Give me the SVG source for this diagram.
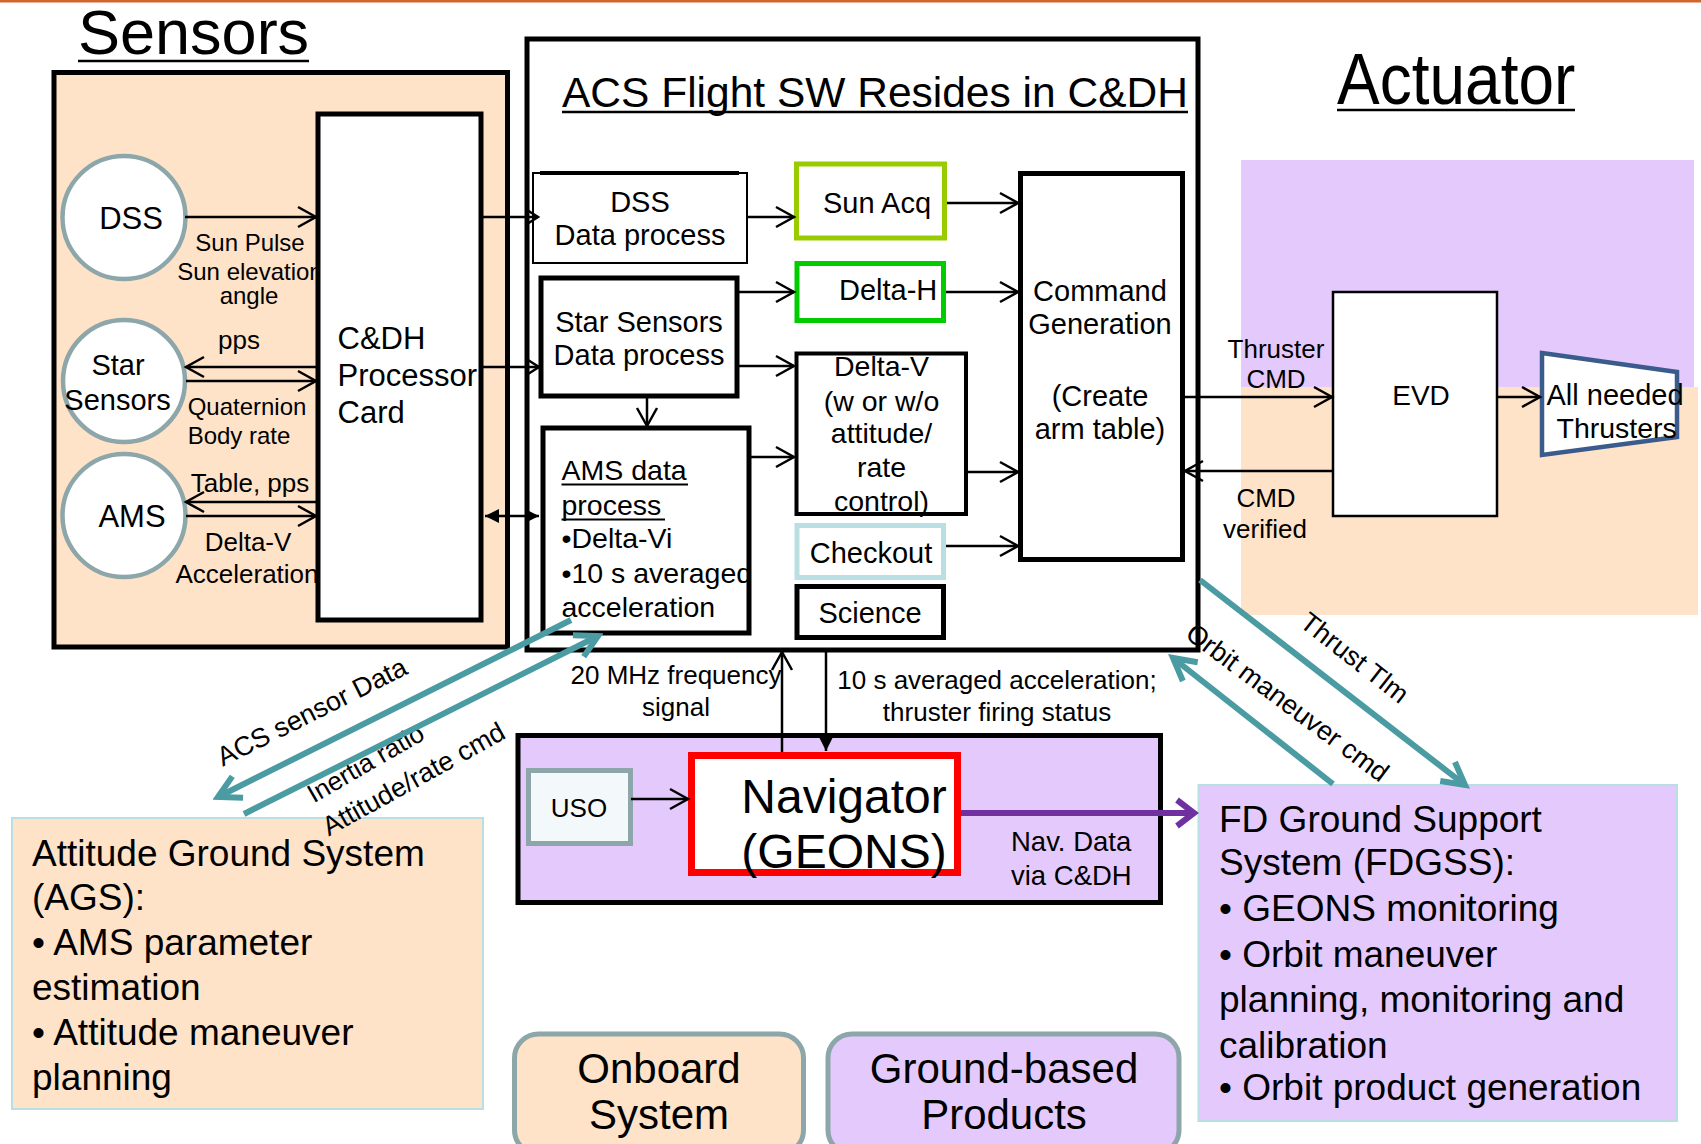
<svg xmlns="http://www.w3.org/2000/svg" width="1701" height="1144" viewBox="0 0 1701 1144">
  <style>
    text { font-family: "Liberation Sans", Arial, sans-serif; fill: #000; }
    .c { text-anchor: middle; }
    .box { fill: #fff; stroke: #000; stroke-width: 5; }
    .thin { fill: #fff; stroke: #000; stroke-width: 2.5; }
    .sensor { fill: #fff; stroke: #8ca6aa; stroke-width: 4.5; }
    .peach { fill: #fee3c8; }
    .lav { fill: #e4cafc; }
    .wire { fill: none; stroke: #000; stroke-width: 2.5; }
    .teal { fill: none; stroke: #4b9ba2; stroke-width: 6; }
    .ul { stroke: #000; stroke-width: 2.5; }
    .f24 { font-size: 24px; }
    .f26 { font-size: 26px; }
    .f28 { font-size: 28.5px; }
    .f29 { font-size: 29px; }
    .f31 { font-size: 31px; }
    .f37 { font-size: 37px; }
    .f42 { font-size: 42px; }
  </style>
  <defs>
    <marker id="open" viewBox="-22 -14 26 28" refX="0" refY="0" markerWidth="26" markerHeight="28" markerUnits="userSpaceOnUse" orient="auto">
      <path d="M-18,-10 L0,0 L-18,10" fill="none" stroke="#000" stroke-width="2.5"/>
    </marker>
    <marker id="openSmall" viewBox="-16 -10 20 20" refX="0" refY="0" markerWidth="20" markerHeight="20" markerUnits="userSpaceOnUse" orient="auto">
      <path d="M-11,-7 L0,0 L-11,7" fill="none" stroke="#000" stroke-width="2.5"/>
    </marker>
    <marker id="tri" viewBox="-16 -9 18 18" refX="0" refY="0" markerWidth="18" markerHeight="18" markerUnits="userSpaceOnUse" orient="auto-start-reverse">
      <path d="M-14,-7 L0,0 L-14,7 Z" fill="#000"/>
    </marker>
    <marker id="tealHead" viewBox="-30 -20 36 40" refX="0" refY="0" markerWidth="36" markerHeight="40" markerUnits="userSpaceOnUse" orient="auto">
      <path d="M-22,-12 L0,0 L-22,12" fill="none" stroke="#4b9ba2" stroke-width="6"/>
    </marker>
    <marker id="purpleHead" viewBox="-26 -18 32 36" refX="0" refY="0" markerWidth="32" markerHeight="36" markerUnits="userSpaceOnUse" orient="auto">
      <path d="M-17,-13 L0,0 L-17,13" fill="none" stroke="#7030a0" stroke-width="6"/>
    </marker>
  </defs>

  <!-- page rule and section titles -->
  <rect x="0" y="0" width="1701" height="2.5" fill="#d2642e"/>
  <text x="78" y="54" style="font-size:63px">Sensors</text>
  <line class="ul" x1="78" y1="61" x2="309" y2="61"/>
  <text transform="translate(1337,104) scale(1,1.12)" style="font-size:64px">Actuator</text>
  <line class="ul" x1="1337" y1="110" x2="1575" y2="110"/>

  <!-- actuator background bands -->
  <rect class="lav" x="1241" y="160" width="453" height="227"/>
  <rect class="peach" x="1241" y="387" width="457" height="228"/>

  <!-- sensors enclosure -->
  <g id="sensors-panel">
    <rect class="peach" x="54" y="72.5" width="453.5" height="574.5" stroke="#000" stroke-width="5"/>
  </g>

  <g id="dss">
    <circle class="sensor" cx="124" cy="217.5" r="61.5"/>
    <text class="c f31" x="131" y="229">DSS</text>
  </g>
  <g id="star-sensors">
    <circle class="sensor" cx="124" cy="381" r="61"/>
    <text class="c f29" x="118" y="375">Star</text>
    <text class="c f29" x="117.5" y="410">Sensors</text>
  </g>
  <g id="ams">
    <circle class="sensor" cx="124" cy="515.5" r="61.5"/>
    <text class="c f31" x="132" y="527">AMS</text>
  </g>

  <!-- sensor link labels (partly covered by the card) -->
  <g id="sensor-labels">
    <text class="c f24" x="250" y="251">Sun Pulse</text>
    <text class="c f24" x="250" y="280">Sun elevation</text>
    <text class="c f24" x="249" y="304">angle</text>
    <text class="c f26" x="239" y="349">pps</text>
    <text class="c f24" x="247" y="415">Quaternion</text>
    <text class="c f24" x="239" y="444">Body rate</text>
    <text class="c f26" x="250" y="492">Table, pps</text>
    <text class="c f26" x="248" y="551">Delta-V</text>
    <text class="c f26" x="247" y="583">Acceleration</text>
  </g>

  <g id="cdh-card">
    <rect class="box" x="318" y="114" width="163" height="506"/>
    <text class="f31" x="337.5" y="349">C&amp;DH</text>
    <text class="f31" x="337.5" y="386">Processor</text>
    <text class="f31" x="337.5" y="423">Card</text>
  </g>

  <!-- flight software enclosure -->
  <g id="acs-flight-sw">
    <rect class="box" x="527" y="39" width="671" height="611"/>
    <text x="562" y="106.5" style="font-size:42.5px">ACS Flight SW Resides in C&amp;DH</text>
    <line class="ul" x1="562" y1="112" x2="1188" y2="112"/>
  </g>

  <g id="dss-data-process">
    <rect fill="#fff" stroke="#000" stroke-width="2" x="533" y="173" width="214" height="90"/>
    <line stroke="#000" stroke-width="4" x1="540" y1="173" x2="739" y2="173"/>
    <text class="c f29" x="640" y="212">DSS</text>
    <text class="c f29" x="640" y="245">Data process</text>
  </g>
  <g id="star-data-process">
    <rect class="box" x="541" y="278" width="196" height="118"/>
    <text class="c f29" x="639" y="332">Star Sensors</text>
    <text class="c f29" x="639" y="365">Data process</text>
  </g>
  <g id="ams-data-process">
    <rect class="box" x="543" y="428" width="206" height="205"/>
    <text class="f28" x="561.5" y="480">AMS data</text>
    <line stroke="#000" stroke-width="2" x1="561.5" y1="484.5" x2="688" y2="484.5"/>
    <text class="f28" x="561.5" y="515">process</text>
    <line stroke="#000" stroke-width="2" x1="561.5" y1="519.5" x2="665" y2="519.5"/>
    <text class="f28" x="561.5" y="548">•Delta-Vi</text>
    <text class="f28" x="561.5" y="583">•10 s averaged</text>
    <text class="f28" x="561.5" y="617">acceleration</text>
  </g>
  <g id="sun-acq">
    <rect fill="#fff" stroke="#99cc00" stroke-width="5" x="796.5" y="164" width="148" height="74"/>
    <text class="f29" x="823" y="213">Sun Acq</text>
  </g>
  <g id="delta-h">
    <rect fill="#fff" stroke="#00cc00" stroke-width="5" x="797" y="263.5" width="146.5" height="57"/>
    <text class="f29" x="839" y="300">Delta-H</text>
  </g>
  <g id="delta-v">
    <rect fill="#fff" stroke="#000" stroke-width="4" x="796.5" y="353.5" width="169.5" height="160.5"/>
    <text class="c f28" x="881.5" y="376">Delta-V</text>
    <text class="c f28" x="881.5" y="411">(w or w/o</text>
    <text class="c f28" x="881.5" y="443">attitude/</text>
    <text class="c f28" x="881.5" y="477">rate</text>
    <text class="c f28" x="881.5" y="511">control)</text>
  </g>
  <g id="checkout">
    <rect fill="#fff" stroke="#b9dfe3" stroke-width="5" x="797" y="525.5" width="146.5" height="52"/>
    <text class="c f29" x="871" y="563">Checkout</text>
  </g>
  <g id="science">
    <rect class="box" x="797" y="586.5" width="146.5" height="51"/>
    <text class="c f29" x="870" y="623">Science</text>
  </g>
  <g id="command-generation">
    <rect class="box" x="1020.5" y="173.5" width="162" height="386"/>
    <text class="c f29" x="1100" y="301">Command</text>
    <text class="c f29" x="1100" y="334">Generation</text>
    <text class="c f29" x="1100" y="406">(Create</text>
    <text class="c f29" x="1100" y="439">arm table)</text>
  </g>

  <g id="evd">
    <rect class="thin" x="1333" y="292" width="164" height="224"/>
    <text class="c" x="1421" y="405" style="font-size:28px">EVD</text>
  </g>
  <g id="thrusters">
    <polygon points="1542,353 1677,372 1677,437 1542,455" fill="#fff" stroke="#3b5b8c" stroke-width="4.5"/>
    <text x="1546.5" y="405" style="font-size:29px">All needed</text>
    <text x="1556.5" y="438" style="font-size:28.5px">Thrusters</text>
  </g>

  <g id="navigator-panel">
    <rect class="lav" x="518" y="735.5" width="642.5" height="167" stroke="#000" stroke-width="5"/>
  </g>
  <g id="uso">
    <rect x="528.5" y="770.5" width="102" height="73" fill="#f3f8fa" stroke="#8ca6aa" stroke-width="5"/>
    <text class="c f26" x="579" y="817">USO</text>
  </g>
  <g id="navigator">
    <rect x="691.5" y="755.5" width="266" height="117" fill="#fff" stroke="#ff0000" stroke-width="7"/>
    <text class="c" x="844" y="813" style="font-size:48px">Navigator</text>
    <text class="c" x="844" y="868" style="font-size:48px">(GEONS)</text>
  </g>

  <g id="ags">
    <rect class="peach" x="12" y="818" width="471" height="291" stroke="#b9dfe3" stroke-width="2"/>
    <text class="f37" x="32" y="866">Attitude Ground System</text>
    <text class="f37" x="32" y="910">(AGS):</text>
    <text class="f37" x="32" y="955">• AMS parameter</text>
    <text class="f37" x="32" y="1000">estimation</text>
    <text class="f37" x="32" y="1045">• Attitude maneuver</text>
    <text class="f37" x="32" y="1090">planning</text>
  </g>
  <g id="fdgss">
    <rect class="lav" x="1198.5" y="785" width="478.5" height="336" stroke="#b9dfe3" stroke-width="2"/>
    <text class="f37" x="1219" y="832">FD Ground Support</text>
    <text class="f37" x="1219" y="875">System (FDGSS):</text>
    <text class="f37" x="1219" y="921">• GEONS monitoring</text>
    <text class="f37" x="1219" y="967">• Orbit maneuver</text>
    <text class="f37" x="1219" y="1012">planning, monitoring and</text>
    <text class="f37" x="1219" y="1058">calibration</text>
    <text class="f37" x="1219" y="1100">• Orbit product generation</text>
  </g>

  <g id="legend-onboard">
    <rect class="peach" x="514.5" y="1034" width="289" height="120" rx="24" stroke="#8ca6aa" stroke-width="5"/>
    <text class="c f42" x="659" y="1083">Onboard</text>
    <text class="c f42" x="659" y="1129">System</text>
  </g>
  <g id="legend-ground">
    <rect class="lav" x="828" y="1034" width="351" height="120" rx="24" stroke="#8ca6aa" stroke-width="5"/>
    <text class="c f42" x="1004" y="1083">Ground-based</text>
    <text class="c f42" x="1004" y="1129">Products</text>
  </g>

  <!-- link labels -->
  <g id="link-labels">
    <text class="c" x="1276" y="358" style="font-size:26px">Thruster</text>
    <text class="c" x="1276" y="388" style="font-size:26px">CMD</text>
    <text class="c" x="1266" y="507" style="font-size:26px">CMD</text>
    <text class="c" x="1265" y="538" style="font-size:26px">verified</text>
    <text class="c f26" x="676" y="684">20 MHz frequency</text>
    <text class="c f26" x="676" y="716">signal</text>
    <text class="c f26" x="997" y="689">10 s averaged acceleration;</text>
    <text class="c f26" x="997" y="721">thruster firing status</text>
    <text x="1011" y="851" style="font-size:27.5px">Nav. Data</text>
    <text x="1011" y="885" style="font-size:27.5px">via C&amp;DH</text>
    <text class="c" transform="translate(316,720) rotate(-26.7)" style="font-size:27px">ACS sensor Data</text>
    <text class="c" transform="translate(370,771) rotate(-30)" style="font-size:26px">Inertia ratio</text>
    <text class="c" transform="translate(418,787) rotate(-29)" style="font-size:27px">Attitude/rate cmd</text>
    <text class="c" transform="translate(1349,665) rotate(38)" style="font-size:27px">Thrust Tlm</text>
    <text class="c" transform="translate(1282,710) rotate(36.7)" style="font-size:27px">Orbit maneuver cmd</text>
  </g>

  <!-- connectors -->
  <g id="connectors">
    <path class="wire" d="M185,217 H316" marker-end="url(#open)"/>
    <path class="wire" d="M316,367 H186" marker-end="url(#open)"/>
    <path class="wire" d="M186,381 H316" marker-end="url(#open)"/>
    <path class="wire" d="M316,502 H186" marker-end="url(#open)"/>
    <path class="wire" d="M186,516 H316" marker-end="url(#open)"/>
    <path class="wire" d="M483,217 H538" marker-end="url(#openSmall)"/>
    <path class="wire" d="M483,367 H539" marker-end="url(#openSmall)"/>
    <path class="wire" d="M485,516 H539" marker-start="url(#tri)" marker-end="url(#tri)"/>
    <path class="wire" d="M747,217 H794" marker-end="url(#open)"/>
    <path class="wire" d="M947,203 H1018" marker-end="url(#open)"/>
    <path class="wire" d="M737,292 H794" marker-end="url(#open)"/>
    <path class="wire" d="M946,292 H1018" marker-end="url(#open)"/>
    <path class="wire" d="M737,366 H794" marker-end="url(#open)"/>
    <path class="wire" d="M647,396 V426" marker-end="url(#open)"/>
    <path class="wire" d="M751,457 H794" marker-end="url(#open)"/>
    <path class="wire" d="M968,472 H1018" marker-end="url(#open)"/>
    <path class="wire" d="M946,546 H1018" marker-end="url(#open)"/>
    <path class="wire" d="M1183,397 H1332" marker-end="url(#open)"/>
    <path class="wire" d="M1333,471 H1185" marker-end="url(#open)"/>
    <path class="wire" d="M1497,397 H1540" marker-end="url(#open)"/>
    <path class="wire" d="M631,799 H688" marker-end="url(#open)"/>
    <path class="wire" d="M782,752 V652" marker-end="url(#open)"/>
    <path class="wire" d="M826,650 V751" marker-end="url(#tri)"/>
    <path d="M961,813 H1194" fill="none" stroke="#7030a0" stroke-width="6" marker-end="url(#purpleHead)"/>
    <path class="teal" d="M571,620 L218,797" marker-end="url(#tealHead)"/>
    <path class="teal" d="M244,814 L598,636" marker-end="url(#tealHead)"/>
    <path class="teal" d="M1200,580 L1465,785" marker-end="url(#tealHead)"/>
    <path class="teal" d="M1333,784 L1173,658" marker-end="url(#tealHead)"/>
  </g>
</svg>
